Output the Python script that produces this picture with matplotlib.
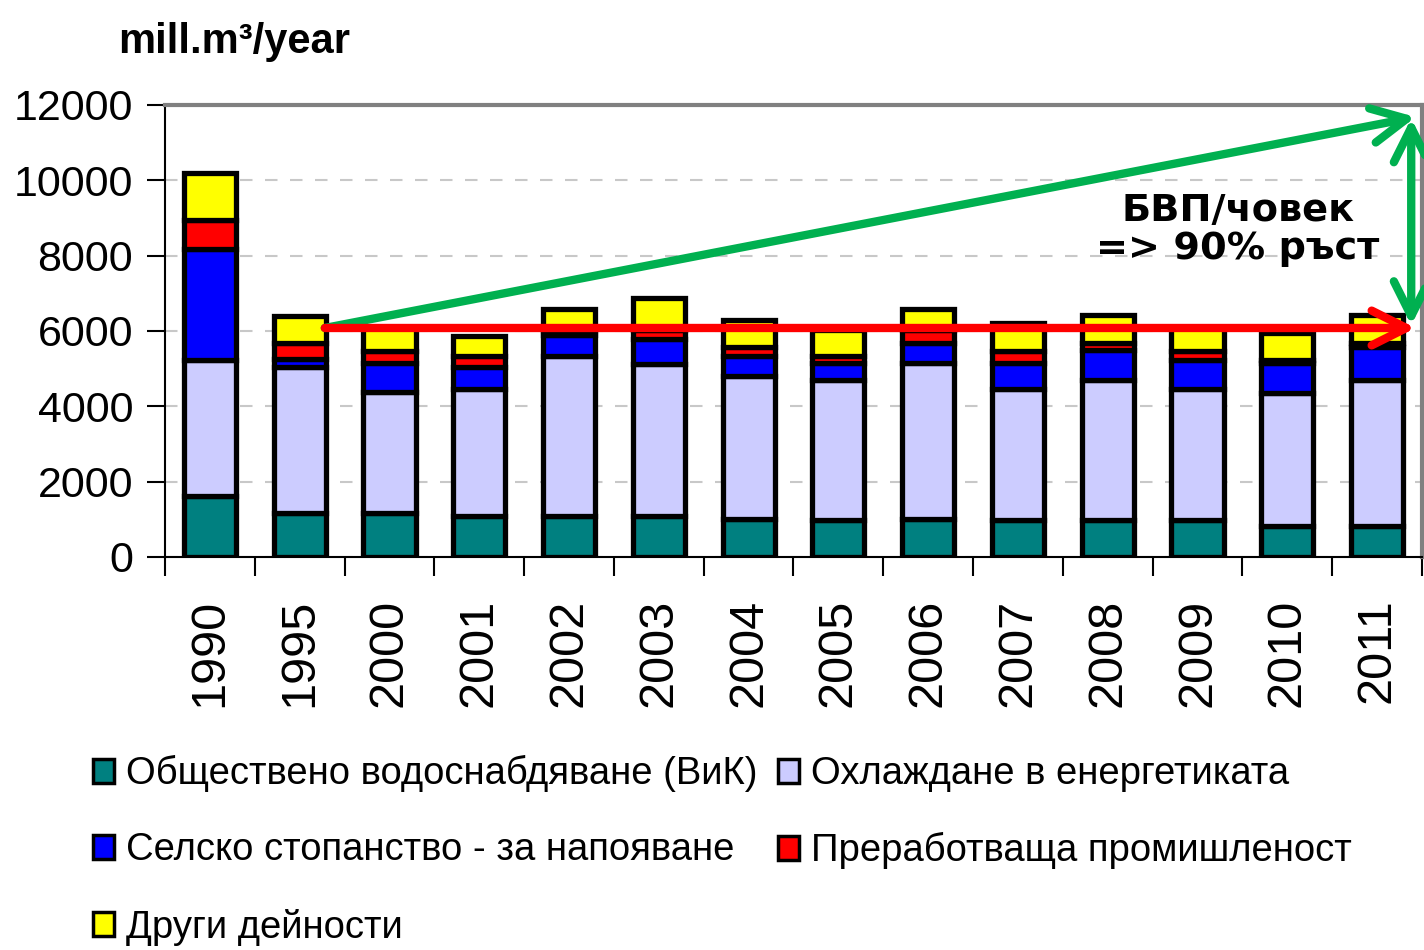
import matplotlib
matplotlib.use("Agg")
import matplotlib.pyplot as plt
from matplotlib.patches import Patch
import numpy as np

years = ["1990", "1995", "2000", "2001", "2002", "2003", "2004",
         "2005", "2006", "2007", "2008", "2009", "2010", "2011"]

# mill. m3 per year
public_supply = [1620, 1180, 1180, 1090, 1090, 1090, 1000, 980, 1000, 980, 980, 980, 830, 830]
cooling       = [3610, 3860, 3190, 3380, 4250, 4040, 3800, 3720, 4140, 3490, 3720, 3490, 3530, 3870]
irrigation    = [2960, 220, 770, 570, 550, 670, 540, 440, 530, 670, 790, 760, 780, 880]
industry      = [770, 410, 340, 300, 140, 230, 240, 200, 360, 340, 180, 250, 90, 90]
other         = [1240, 730, 630, 530, 550, 850, 700, 690, 550, 720, 750, 630, 730, 750]

series = [public_supply, cooling, irrigation, industry, other]
labels = ["Обществено водоснабдяване (ВиК)", "Охлаждане в енергетиката",
          "Селско стопанство - за напояване", "Преработваща промишленост",
          "Други дейности"]
colors = ["#008080", "#CCCCFF", "#0000FF", "#FF0000", "#FFFF00"]

plt.rcParams["font.family"] = ["Liberation Sans", "DejaVu Sans"]

fig = plt.figure(figsize=(14.24, 9.5), dpi=100)
ax = fig.add_axes([165 / 1424, 1 - 557 / 950, 1257 / 1424, 452 / 950])

x = np.arange(len(years))
bottom = np.zeros(len(years))
for vals, col in zip(series, colors):
    ax.bar(x, vals, width=0.58, bottom=bottom, color=col,
           edgecolor="black", linewidth=3.8, zorder=3)
    bottom += np.array(vals)

ax.set_xlim(-0.5, len(years) - 0.5)
ax.set_ylim(0, 12000)
ax.set_yticks(range(0, 12001, 2000))
ax.tick_params(axis="y", labelsize=31, length=13, width=1.5, pad=10)
ax.yaxis.grid(True, linestyle=(0, (6, 6)), color="#c8c8c8", linewidth=1.5, zorder=0)

ax.set_xticks(x)
ax.set_xticklabels(years, rotation=90, fontsize=35)
ax.tick_params(axis="x", length=0, pad=30)
ax.set_xticks(np.arange(-0.5, len(years)), minor=True)
ax.tick_params(axis="x", which="minor", length=14, width=1.5)

for side in ["top", "right"]:
    ax.spines[side].set_color("#808080")
    ax.spines[side].set_linewidth(3)
for side in ["left", "bottom"]:
    ax.spines[side].set_linewidth(1.5)

# annotation arrows (open chevron heads)
green = "#00B050"
ax.annotate("", xy=(13.43, 11680), xytext=(1.28, 6080),
            arrowprops=dict(arrowstyle="->,head_length=1.0,head_width=0.5",
                            mutation_scale=25, color=green, lw=6,
                            shrinkA=0, shrinkB=0), zorder=5)
ax.annotate("", xy=(13.43, 6080), xytext=(1.28, 6080),
            arrowprops=dict(arrowstyle="->,head_length=1.0,head_width=0.5",
                            mutation_scale=25, color="#FF0000", lw=6,
                            shrinkA=0, shrinkB=0), zorder=6)
ax.annotate("", xy=(13.38, 6150), xytext=(13.38, 11650),
            arrowprops=dict(arrowstyle="<->,head_length=1.0,head_width=0.5",
                            mutation_scale=25, color=green, lw=6,
                            shrinkA=0, shrinkB=0), zorder=5)
ax.text(11.45, 8680, "БВП/човек\n=> 90% ръст", ha="center", va="center",
        fontsize=27.5, fontweight="bold", family=["DejaVu Sans"],
        linespacing=1.1, zorder=7)

fig.text(118 / 1424, 1 - 42 / 950, "mill.m³/year", fontsize=30,
         fontweight="bold", ha="left", va="center")

handles = [Patch(facecolor=c, edgecolor="black", linewidth=2.5) for c in colors]
order = [0, 2, 4, 1, 3]
fig.legend([handles[i] for i in order], [labels[i] for i in order],
           loc="upper left", bbox_to_anchor=(78 / 1424, 1 - 740 / 950),
           ncol=2, frameon=False, fontsize=27.5, handlelength=0.55,
           handleheight=0.6, handletextpad=0.3, labelspacing=1.05,
           columnspacing=0.55, borderaxespad=0)

fig.savefig("out.png", dpi=100)
